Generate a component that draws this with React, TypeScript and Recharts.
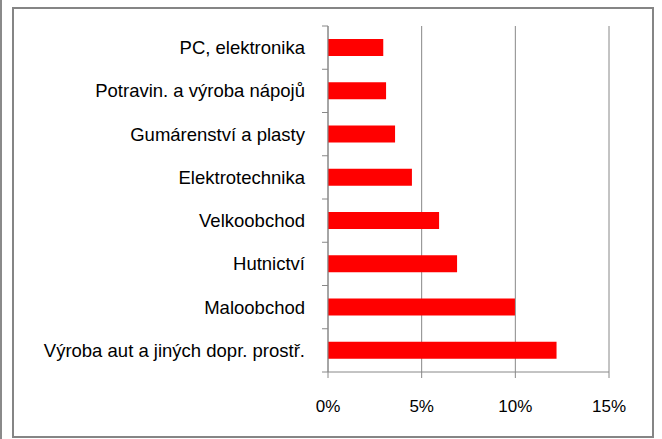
import React from 'react';
import { BarChart, Bar, XAxis, YAxis, CartesianGrid } from 'recharts';

const CATEGORIES = [
  'PC, elektronika',
  'Potravin. a výroba nápojů',
  'Gumárenství a plasty',
  'Elektrotechnika',
  'Velkoobchod',
  'Hutnictví',
  'Maloobchod',
  'Výroba aut a jiných dopr. prostř.',
];
const SHARES = [0.0295, 0.031, 0.0358, 0.0448, 0.0593, 0.0689, 0.0998, 0.122];
const X_TICKS = [0, 0.05, 0.1, 0.15];

const data = CATEGORIES.map((name, i) => ({ name, value: SHARES[i] }));

const W = 662;
const H = 439;
const PLOT_LEFT = 328;
const PLOT_TOP = 26;
const PLOT_BOTTOM = 372;
const BAND = (PLOT_BOTTOM - PLOT_TOP) / CATEGORIES.length;
const FONT = '"Liberation Sans", Arial, sans-serif';
const AXIS = '#888888';

// Excel draws the category ticks between bars, not at their centres
const CategoryTick = (props: any) => {
  const { y, payload, index } = props;
  return (
    <g>
      {index === 0 && (
        <line x1={PLOT_LEFT - 6} x2={PLOT_LEFT} y1={y - BAND / 2} y2={y - BAND / 2} stroke={AXIS} />
      )}
      <line x1={PLOT_LEFT - 6} x2={PLOT_LEFT} y1={y + BAND / 2} y2={y + BAND / 2} stroke={AXIS} />
      <text
        x={PLOT_LEFT - 23}
        y={y}
        dy="0.35em"
        textAnchor="end"
        fill="#000"
        fontSize={18.5}
        fontFamily={FONT}
      >
        {payload.value}
      </text>
    </g>
  );
};

export default function App() {
  return (
    <div style={{ position: 'absolute', left: 0, top: 0, width: W, height: H, background: '#fff' }}>
      <div style={{ position: 'absolute', left: 0, top: 0, width: 2, height: H, background: '#8a8a8a' }} />
      <div
        style={{
          position: 'absolute',
          left: 12,
          top: 7,
          width: 642,
          height: 431,
          border: '2px solid #858585',
          boxSizing: 'border-box',
        }}
      />
      <div style={{ position: 'absolute', left: 0, top: 0 }}>
        <BarChart
          width={W}
          height={H}
          data={data}
          layout="vertical"
          margin={{ top: PLOT_TOP, right: 53, bottom: 0, left: 0 }}
        >
          <CartesianGrid horizontal={false} stroke={AXIS} strokeWidth={1} />
          <XAxis
            type="number"
            domain={[0, 0.15]}
            ticks={X_TICKS}
            interval={0}
            height={H - PLOT_BOTTOM}
            tickFormatter={(v: number) => `${Math.round(v * 100)}%`}
            tick={{ fill: '#000', fontSize: 17, fontFamily: FONT }}
            tickSize={6}
            tickMargin={22}
            stroke={AXIS}
          />
          <YAxis
            type="category"
            dataKey="name"
            width={PLOT_LEFT}
            tick={<CategoryTick />}
            tickLine={false}
            stroke={AXIS}
            interval={0}
          />
          <Bar dataKey="value" fill="#ff0000" barSize={17} isAnimationActive={false} />
        </BarChart>
      </div>
    </div>
  );
}
